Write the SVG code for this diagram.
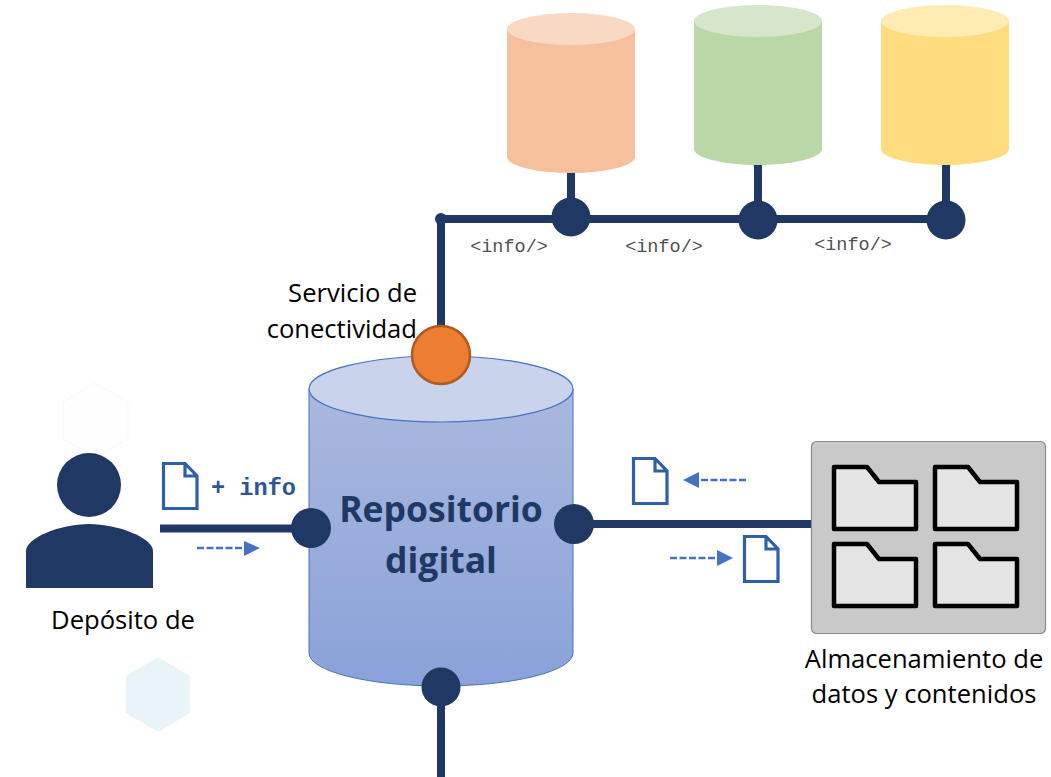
<svg xmlns="http://www.w3.org/2000/svg" width="1051" height="777" viewBox="0 0 1051 777">
<style>
.wire{stroke:#1f3864;stroke-width:8;fill:none}
.dot{fill:#203864}
.lbl{font-family:"Open Sans","Noto Sans",sans-serif;font-size:25.600px;fill:#000}
.code{font-family:"Liberation Mono",monospace;font-size:18.500px;fill:#505050}
.doc{fill:#fff;stroke:#2f5fa8;stroke-width:3.200}
.flow{stroke:#4472c4;stroke-width:2.600;stroke-dasharray:7 2.500;fill:none}
.head{fill:#4472c4}
.folder{fill:#e4e4e4;stroke:#000;stroke-width:4.500;stroke-linejoin:round}
.title{font-family:"Open Sans","Noto Sans",sans-serif;font-size:35.500px;font-weight:700;fill:#203864}
</style>
<defs>
<linearGradient id="body" x1="0" y1="0" x2="0" y2="1"><stop offset="0" stop-color="#aab8de"/><stop offset="1" stop-color="#8aa2d9"/></linearGradient>
<path id="docshape" d="M1.500 1.500H23L35 14V46.500H1.500Z M23 1.500V14H35"/>
<path id="foldershape" d="M0 0H33L45 15H82V62H0Z"/>
</defs>
<g id="hex-1"><polygon points="95,383 128,402 128,439 95,458 63,439 63,402" fill="#fefefe" stroke="#f6f9f8" stroke-width="1"/></g>
<g id="hex-2"><polygon points="158,657 190,676 190,713 158,732 126,713 126,676" fill="#e8f4f7"/></g>
<g id="connectors">
<path class="wire" d="M441 340V219H946"/>
<path class="wire" d="M571 165V219M758 160V219M946 160V219"/>
<path class="wire" d="M160 528.500H311"/>
<path class="wire" d="M574 524H812"/>
<path class="wire" d="M441 687V777"/>
<circle class="dot" cx="441" cy="219" r="6"/>
</g>
<g id="db-orange"><path d="M507 29V157A64 16 0 0 0 635 157V29Z" fill="#f7c09c"/><ellipse cx="571" cy="29" rx="64" ry="16" fill="#f9d9c3"/></g>
<g id="db-green"><path d="M694 21V149A64 16 0 0 0 822 149V21Z" fill="#bad7a7"/><ellipse cx="758" cy="21" rx="64" ry="16" fill="#d6e6ca"/></g>
<g id="db-yellow"><path d="M881 21V149A64 16 0 0 0 1009 149V21Z" fill="#ffdd7e"/><ellipse cx="945" cy="21" rx="64" ry="16" fill="#ffecb3"/></g>
<g id="junction-1"><circle class="dot" cx="571" cy="217" r="19.500"/></g>
<g id="junction-2"><circle class="dot" cx="758" cy="220" r="19.500"/></g>
<g id="junction-3"><circle class="dot" cx="946" cy="220" r="19.500"/></g>
<g id="info-labels">
<text class="code" x="509" y="252" text-anchor="middle">&lt;info/&gt;</text>
<text class="code" x="664" y="252" text-anchor="middle">&lt;info/&gt;</text>
<text class="code" x="853" y="250" text-anchor="middle">&lt;info/&gt;</text>
</g>
<g id="repositorio">
<path d="M309 389V653A132 33 0 0 0 573 653V389Z" fill="url(#body)" stroke="#4472c4" stroke-width="1"/>
<ellipse cx="441" cy="389" rx="132" ry="33" fill="#c9d3eb" stroke="#4472c4" stroke-width="1.200"/>
<text class="title" x="441" y="522" text-anchor="middle">Repositorio</text>
<text class="title" x="441" y="573" text-anchor="middle">digital</text>
</g>
<g id="servicio">
<circle cx="441" cy="355" r="29" fill="#ed7d31" stroke="#ae5a21" stroke-width="2.500"/>
<text class="lbl" x="417" y="302" text-anchor="end">Servicio de</text>
<text class="lbl" x="417" y="338" text-anchor="end">conectividad</text>
</g>
<g id="port-left"><circle class="dot" cx="311" cy="528" r="20"/></g>
<g id="port-right"><circle class="dot" cx="574" cy="524" r="20"/></g>
<g id="port-bottom"><circle class="dot" cx="441" cy="687" r="19.500"/></g>
<g id="usuario">
<circle class="dot" cx="89" cy="485" r="32"/>
<path class="dot" d="M26 588V551C26 538 60 524 89 524C118 524 153 538 153 551V588Z"/>
<text class="lbl" x="123" y="629" text-anchor="middle">Depósito de</text>
</g>
<g id="doc-in" transform="translate(162 462)"><use href="#docshape" class="doc"/></g>
<text id="plus-info" x="253.500" y="495" text-anchor="middle" font-family="'Liberation Mono',monospace" font-size="23.600" font-weight="700" fill="#2f5597">+ info</text>
<g id="flow-in"><path class="flow" d="M197 548H245"/><polygon class="head" points="244,541 260,548 244,556"/></g>
<g id="doc-up" transform="translate(632 457)"><use href="#docshape" class="doc"/></g>
<g id="flow-up"><path class="flow" d="M746 480H698"/><polygon class="head" points="699,472 683,480 699,488"/></g>
<g id="doc-down" transform="translate(743 535)"><use href="#docshape" class="doc"/></g>
<g id="flow-down"><path class="flow" d="M670 558H718"/><polygon class="head" points="717,550 733,558 717,566"/></g>
<g id="almacenamiento">
<rect x="811.500" y="441.500" width="234" height="192" rx="5" fill="#c9c9c9" stroke="#8c8c8c" stroke-width="1.200"/>
<use href="#foldershape" class="folder" transform="translate(834 467)"/>
<use href="#foldershape" class="folder" transform="translate(935 467)"/>
<use href="#foldershape" class="folder" transform="translate(834 544)"/>
<use href="#foldershape" class="folder" transform="translate(935 544)"/>
<text class="lbl" x="924" y="668" text-anchor="middle">Almacenamiento de</text>
<text class="lbl" x="924" y="703" text-anchor="middle">datos y contenidos</text>
</g>
</svg>
